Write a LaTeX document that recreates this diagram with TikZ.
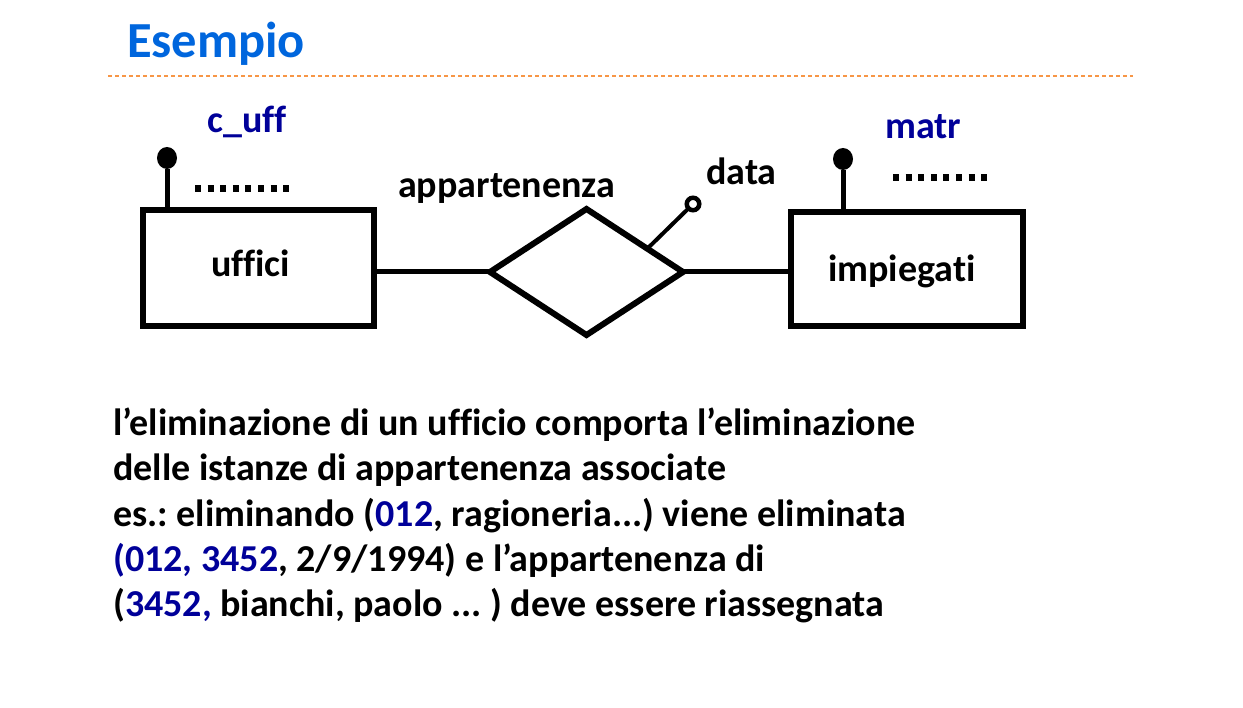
\documentclass[tikz,border=0pt]{standalone}
\usepackage{fontspec}
\setmainfont[Ligatures=CommonOff]{Carlito}
\usetikzlibrary{shapes.geometric,calc}
\definecolor{titleblue}{HTML}{0066DD}
\definecolor{navy}{HTML}{000099}
\definecolor{rulecol}{HTML}{F79646}
\newcommand{\bl}[1]{\textcolor{navy}{#1}}
\frenchspacing
\tikzset{
  entity/.style={draw,line width=6pt,minimum width=230pt,minimum height=116pt,inner sep=0pt,outer sep=0pt},
  relation/.style={draw,diamond,line width=6pt,aspect=1.53,minimum width=193pt,minimum height=126pt,inner sep=0pt,outer sep=0pt},
  link/.style={line width=5pt},
  keydot/.style={ellipse,fill=black,minimum width=20pt,minimum height=22pt,inner sep=0pt,outer sep=0pt},
  opendot/.style={circle,draw,line width=4.5pt,minimum size=12.5pt,inner sep=0pt,outer sep=0pt},
  more/.style={line width=7pt,dash pattern=on 6pt off 6.6pt},
  lbl/.style={font=\fontsize{38}{45}\selectfont\bfseries,inner sep=0pt,anchor=base west},
  attr/.style={lbl,text=navy},
  body/.style={font=\fontsize{38}{45}\selectfont\bfseries,inner sep=0pt,anchor=base west},
}
\begin{document}
\begin{tikzpicture}[x=1pt,y=-1pt]
\useasboundingbox (0,0) rectangle (1243,708);
% title
\node[font=\fontsize{50.5}{58}\selectfont\bfseries,text=titleblue,inner sep=0pt,anchor=base west] (title) at (127,58) {Esempio};
\draw[rulecol,line width=1.5pt,dash pattern=on 4pt off 3pt] (108,76) coordinate (r1) -- (1133,76) coordinate (r2);
% entities
\node[entity,minimum width=230.7pt,minimum height=116.3pt] (uff) at (258.3,267.9) {};
\node[entity,minimum width=232pt,minimum height=114pt] (imp) at (907,269.5) {};
\node[relation] (rel) at (586.5,272) {};
\node[lbl] (uffl) at (211,277) {uffici};
\node[lbl] (impl) at (828,282) {impiegati};
\node[lbl] (rell) at (398,198) {appartenenza};
\node[lbl] (datal) at (706,185) {data};
% connectors
\draw[link] (uff.east |- rel.west) -- (rel.west);
\draw[link] (rel.east) -- (imp.west |- rel.east);
% key attributes
\node[keydot] (k1) at (167,158) {};
\draw[link] (k1) -- (k1 |- uff.north);
\node[keydot] (k2) at (843,159) {};
\draw[link] (k2) -- (k2 |- imp.north);
\node[attr] (k1l) at (207,133) {c\_uff};
\node[attr] (k2l) at (885,139) {matr};
% more attributes dots
\draw[more] (195,189) coordinate (m1) -- (290,189) coordinate (m2);
\draw[more] (893,178) coordinate (m3) -- (988,178) coordinate (m4);
% data attribute
\node[opendot] (dat) at (693,204) {};
\coordinate (datfoot) at ($(rel.north)!0.63!(rel.east)$);
\draw[line width=4pt] (datfoot) -- (dat);
% body text
\node[body] (t1) at (113,436) {l’eliminazione di un ufficio comporta l’eliminazione};
\node[body] (t2) at (113,481) {delle istanze di appartenenza associate};
\node[body] (t3) at (113,526) {es.: eliminando (\bl{012}, ragioneria...) viene eliminata};
\node[body] (t4) at (113,571) {\bl{(012, 3452}, 2/9/1994) e l’appartenenza di};
\node[body] (t5) at (113,616) {(\bl{3452,} bianchi, paolo ... ) deve essere riassegnata};
\end{tikzpicture}
\end{document}
